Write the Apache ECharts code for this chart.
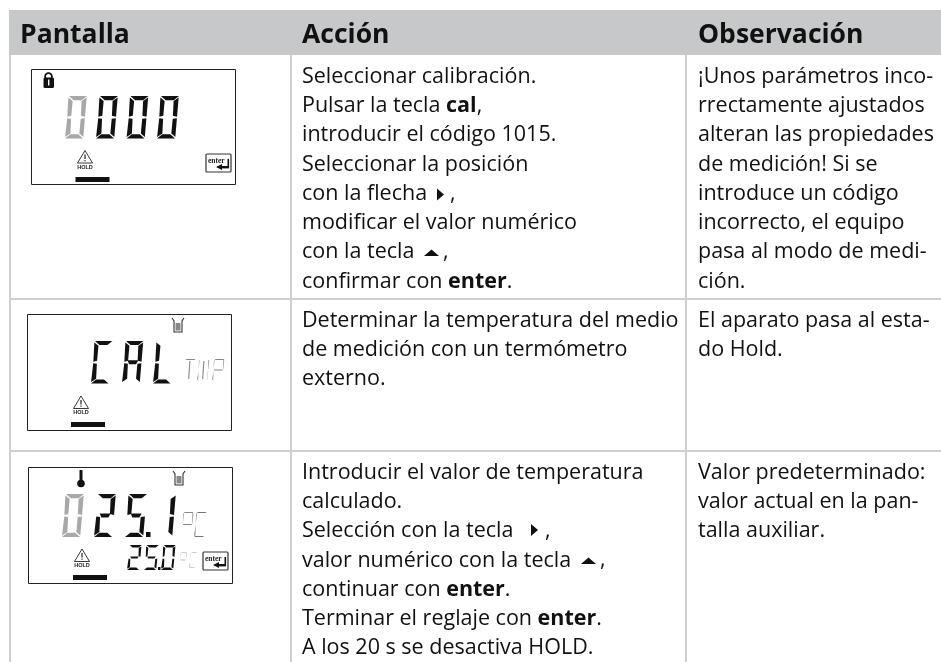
<!DOCTYPE html>
<html><head><meta charset="utf-8">
<style>html,body{margin:0;padding:0;background:#fff}#c{width:941px;height:662px}</style>
<script src="https://cdn.jsdelivr.net/npm/echarts@6/dist/echarts.min.js"></script>
</head><body><div id="c"></div>
<script>
const headers = ['Pantalla', 'Acción', 'Observación'];
const actionRow1 = ['Seleccionar calibración.', 'Pulsar la tecla {b|cal},', 'introducir el código 1015.', 'Seleccionar la posición', 'con la flecha', 'modificar el valor numérico', 'con la tecla', 'confirmar con {b|enter}.'];
const noteRow1 = ['¡Unos parámetros inco-', 'rrectamente ajustados', 'alteran las propiedades', 'de medición! Si se', 'introduce un código', 'incorrecto, el equipo', 'pasa al modo de medi-', 'ción.'];
const actionRow2 = ['Determinar la temperatura del medio', 'de medición con un termómetro', 'externo.'];
const noteRow2 = ['El aparato pasa al esta-', 'do Hold.'];
const actionRow3 = ['Introducir el valor de temperatura', 'calculado.', 'Selección con la tecla', 'valor numérico con la tecla', 'continuar con {b|enter}.', 'Terminar el reglaje con {b|enter}.', 'A los 20 s se desactiva HOLD.'];
const noteRow3 = ['Valor predeterminado:', 'valor actual en la pan-', 'talla auxiliar.'];

const FONT = '"Open Sans"';
const G = [];
const RULE = '#cdcfd0', DARK = '#111';
const rect = (x, y, w, h, fill, stroke, lw) => G.push({type:'rect', shape:{x,y,width:w,height:h}, style:{fill:fill||'none', stroke:stroke||null, lineWidth:lw||0}});
const poly = (pts, fill) => G.push({type:'polygon', shape:{points:pts}, style:{fill}});

// table frame
rect(9, 10, 932, 45, '#c6c8ca');
rect(9, 55, 2, 607, RULE);
rect(290, 55, 2, 607, RULE);
rect(685, 55, 2, 607, RULE);
rect(9, 298, 932, 2, RULE);
rect(9, 450, 932, 2, RULE);

function txt(lines, x, y0, step, size, bold, sx) {
  lines.forEach((t, i) => {
    G.push({type:'text', x, y:y0 + i*step, scaleX:sx||1, originX:0, style:{
      text:t, fill:'#111', font:(bold?'bold ':'')+size+'px '+FONT, verticalAlign:'middle',
      rich:{b:{fontFamily:'"Open Sans"', fontWeight:'bold', fontSize:size, fill:'#111'}}
    }});
  });
}
const HS = 1.02, BS = 1;
txt([headers[0]], 20, 35.5, 0, 26, true, HS);
txt([headers[1]], 302, 35.5, 0, 26, true, HS);
txt([headers[2]], 698, 35.5, 0, 26, true, HS);
txt(actionRow1, 302, 76.5, 29.3, 21.5, false, BS);
txt(noteRow1, 698, 76.5, 29.3, 21.5, false, BS);
txt(actionRow2, 302, 320.5, 29.3, 21.5, false, BS);
txt(noteRow2, 698, 320.5, 29.3, 21.5, false, BS);
txt(actionRow3, 302, 472.5, 29.3, 21.5, false, BS);
txt(noteRow3, 698, 472.5, 29.3, 21.5, false, BS);
// key arrows and the commas that follow them
poly([[437,188.5],[444,194.5],[437,200.5]], '#111');
txt([','], 450, 194, 0, 21.5);
poly([[424,256],[431.5,249.5],[439,256]], '#111');
txt([','], 443, 252, 0, 21.5);
poly([[531,524],[538,530],[531,536]], '#111');
txt([','], 545, 531, 0, 21.5);
poly([[581,564],[588.5,557.5],[596,564]], '#111');
txt([','], 600, 560, 0, 21.5);

// seven-segment glyphs
const SEG = {'0':'abcdef','1':'bc','2':'abged','5':'afgcd','C':'adef','A':'abcefg','L':'def','T':'av','M':'bcefv','P':'abefg','o':'abfg'};
function glyph(ch, x, y, w, h, t, fill) {
  const s = SEG[ch] || '', m = y + h/2, k = 0.07, c = x + w/2;
  const shape = {
    a:[[x+1,y],[x+w,y],[x+w-t,y+t*0.85],[x+t+1,y+t*0.85]],
    d:[[x+t,y+h-t*0.85],[x+w-t-1,y+h-t*0.85],[x+w-1,y+h],[x,y+h]],
    g:[[x+t*0.8,m-t*0.4],[x+w-t*0.8,m-t*0.4],[x+w-t*1.2,m+t*0.4],[x+t*1.2,m+t*0.4]],
    f:[[x+0.5,y+1.5],[x+t,y+t],[x+t-0.3,m-1.5],[x+0.8,m-0.5]],
    b:[[x+w-t,y+t],[x+w-0.2,y+1.5],[x+w-0.5,m-0.5],[x+w-t+0.3,m-1.5]],
    e:[[x+0.8,m+1],[x+t-0.3,m+1.5],[x+t,y+h-t],[x,y+h-1.5]],
    c:[[x+w-t+0.3,m+1.5],[x+w-0.5,m+1],[x+w-0.8,y+h-1.5],[x+w-t,y+h-t]],
    v:[[c-t/2,y+2],[c+t/2,y+2],[c+t/2,y+h-2],[c-t/2,y+h-2]]
  };
  for (const key of s) poly(shape[key].map(p => [p[0] + k*(y+h-p[1]), p[1]]), fill);
}
function word(chars, xs, y, w, h, t, fills) {
  [...chars].forEach((c, i) => glyph(c, xs[i], y, w, h, t, fills[i] || DARK));
}

function lock(x, y) {
  G.push({type:'circle', shape:{cx:x+5.5,cy:y+4.5,r:3.4}, style:{fill:'none',stroke:DARK,lineWidth:1.8}});
  G.push({type:'rect', shape:{x:x+0.5,y:y+5.5,width:10.5,height:10.5,r:1.5}, style:{fill:DARK}});
  rect(x+5, y+7.5, 1.4, 6, '#fff');
}
function hold(cx, y, barX, barY) {
  G.push({type:'polygon', shape:{points:[[cx,y],[cx+7.5,y+12.5],[cx-7.5,y+12.5]]}, style:{fill:'#fff',stroke:'#222',lineWidth:0.9}});
  rect(cx-0.6, y+4, 1.2, 4.5, '#222');
  rect(cx-0.6, y+9.5, 1.2, 1.2, '#222');
  G.push({type:'text', x:cx, y:y+16.5, style:{text:'HOLD', font:'bold 5.5px "Liberation Sans"', fill:'#222', align:'center', verticalAlign:'middle'}});
  rect(barX, barY, 34, 5, DARK);
}
function enter(x, y) {
  G.push({type:'rect', shape:{x,y,width:25,height:18,r:1}, style:{fill:'#fff',stroke:'#333',lineWidth:1.2}});
  G.push({type:'text', x:x+2, y:y+7, style:{text:'enter', font:'bold 7.5px "Liberation Serif"', fill:'#222', verticalAlign:'middle'}});
  rect(x+21.5, y+5, 1.6, 9, DARK);
  rect(x+14, y+12, 9, 2.4, DARK);
  poly([[x+10,y+13],[x+16,y+10],[x+16,y+16]], DARK);
}
function beaker(x, y) {
  G.push({type:'polyline', shape:{points:[[x,y],[x+2,y+3],[x+2,y+14],[x+10,y+14],[x+10,y+3],[x+12,y]]}, style:{fill:'none',stroke:'#333',lineWidth:1.1}});
  rect(x+3.5, y+5, 5, 7.5, '#888');
}
function thermo(cx, y) {
  rect(cx-1.5, y, 3, 13, DARK);
  G.push({type:'circle', shape:{cx,cy:y+13.5,r:3.8}, style:{fill:DARK}});
}
function box(x, y, w, h) { rect(x+0.5, y+0.5, w, h, '#fff', '#222', 1); }

// LCD 1
box(31, 69, 204, 115);
lock(43, 72);
word('0000', [65,96,126.5,157], 96, 19, 42.5, 5, ['#a8a8a8']);
hold(85, 150.5, 75.5, 177);
enter(206, 154);

// LCD 2
box(27, 314, 204, 116);
beaker(172, 318);
word('CAL', [91,122,153], 341, 18.5, 42.5, 4.8, []);
word('TMP', [183,197,212], 359, 11, 22, 1.1, ['#888','#888','#888']);
hold(81, 396, 71, 422);

// LCD 3
box(28, 467, 204, 116);
thermo(81, 470);
beaker(173, 471);
word('0', [62], 494, 19, 43, 5, ['#a8a8a8']);
word('25', [94,125], 494, 19, 43, 5, []);
rect(146, 532, 4.5, 5, DARK);
word('1', [154], 494, 19, 43, 5, []);
word('oC', [181,194], 512, 11, 25, 1.2, ['#888','#777']);
hold(82, 549, 73, 575);
word('25', [127,144], 545, 13, 25, 2.8, []);
rect(158, 567, 2.5, 3, DARK);
word('0', [161], 545, 13, 25, 2.8, []);
word('oC', [179,189], 552, 7, 16, 1, ['#bbb','#bbb']);
enter(203, 552);

const chart = echarts.init(document.getElementById('c'), null, {renderer:'canvas'});
chart.setOption({animation:false, backgroundColor:'#fff', graphic:{elements:G}});
</script></body></html>
